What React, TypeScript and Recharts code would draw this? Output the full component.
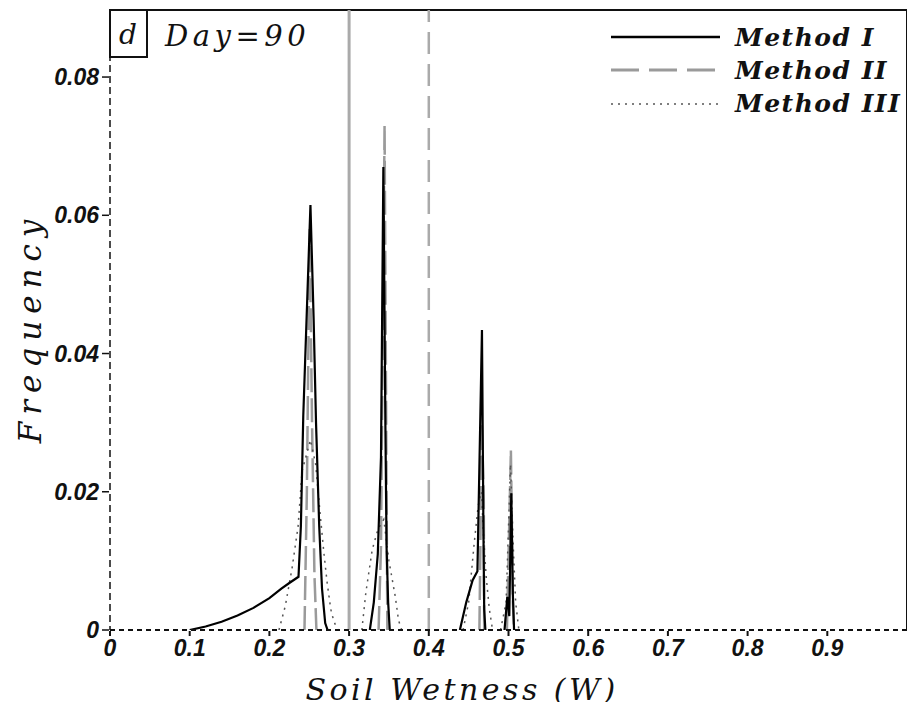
import { LineChart, Line, XAxis, YAxis, ReferenceLine } from "recharts";

// frequency curves of soil wetness W, one segment per peak
const methodI: number[][][] = [
  [[0.1, 0], [0.12, 0.0005], [0.14, 0.0012], [0.16, 0.0021], [0.18, 0.0032], [0.2, 0.0046], [0.215, 0.006], [0.225, 0.0068], [0.2365, 0.0077], [0.2395, 0.015], [0.2425, 0.031], [0.2515, 0.0615], [0.2555, 0.045], [0.2585, 0.03], [0.2625, 0.015], [0.266, 0.006], [0.27, 0.001], [0.273, 0]],
  [[0.326, 0], [0.331, 0.004], [0.336, 0.011], [0.34, 0.025], [0.343, 0.067], [0.3455, 0.03], [0.347, 0.012], [0.349, 0.004], [0.351, 0]],
  [[0.439, 0], [0.447, 0.004], [0.455, 0.0072], [0.461, 0.0085], [0.4667, 0.0434], [0.4685, 0.015], [0.4695, 0.003], [0.471, 0]],
  [[0.495, 0], [0.4985, 0.0048], [0.501, 0.002], [0.5035, 0.0198], [0.5055, 0.005], [0.507, 0]],
];

const methodII: number[][][] = [
  [[0.244, 0], [0.247, 0.02], [0.2505, 0.058], [0.2535, 0.03], [0.2565, 0.008], [0.259, 0]],
  [[0.337, 0], [0.34, 0.012], [0.3445, 0.073], [0.347, 0.02], [0.348, 0]],
  [[0.4635, 0], [0.4665, 0.03], [0.469, 0.0188], [0.4695, 0]],
  [[0.498, 0], [0.503, 0.026], [0.5055, 0.004], [0.507, 0]],
];

const methodIII: number[][][] = [
  [[0.212, 0], [0.22, 0.0035], [0.2285, 0.009], [0.236, 0.015], [0.241, 0.023], [0.2515, 0.0275], [0.258, 0.024], [0.264, 0.0164], [0.2685, 0.011], [0.2725, 0.0068], [0.277, 0.003], [0.281, 0.0012], [0.286, 0]],
  [[0.316, 0], [0.321, 0.0054], [0.329, 0.0116], [0.336, 0.0145], [0.3435, 0.016], [0.35, 0.01], [0.358, 0.0048], [0.362, 0.0014], [0.366, 0]],
  [[0.443, 0], [0.45, 0.004], [0.457, 0.0126], [0.462, 0.018], [0.466, 0.02], [0.469, 0.013], [0.472, 0.0077], [0.476, 0.003], [0.48, 0]],
  [[0.49, 0], [0.497, 0.004], [0.5025, 0.024], [0.506, 0.012], [0.509, 0.004], [0.513, 0]],
];

const xTicks = [0, 0.1, 0.2, 0.3, 0.4, 0.5, 0.6, 0.7, 0.8, 0.9];
const yTicks = [0, 0.02, 0.04, 0.06, 0.08];
const Y_MAX = 0.0897;

// join the segments with null points so the line breaks between peaks
function toRows(segs: number[][][]) {
  const rows: { w: number; f: number | null }[] = [];
  segs.forEach((seg, i) => {
    if (i > 0) rows.push({ w: (segs[i - 1][segs[i - 1].length - 1][0] + seg[0][0]) / 2, f: null });
    seg.forEach(([w, f]) => rows.push({ w, f }));
  });
  return rows;
}

const tickFont = {
  fontFamily: "'Liberation Sans', Arial, sans-serif",
  fontStyle: "italic",
  fontWeight: "bold",
  fontSize: 23,
  fill: "#111",
};

const serif = "'DejaVu Serif', serif";

export default function App() {
  return (
    <div style={{ position: "relative", width: 915, height: 710, margin: -8, background: "#fff" }}>
      <LineChart width={915} height={710} margin={{ top: 10, right: 8, bottom: 40, left: 50 }}>
        <XAxis
          type="number"
          dataKey="w"
          domain={[0, 1]}
          ticks={xTicks}
          tickFormatter={(v) => (v === 0 ? "0" : v.toFixed(1))}
          allowDataOverflow
          height={40}
          stroke="#111"
          strokeWidth={2}
          strokeDasharray="5 4"
          tickSize={6}
          tickMargin={4}
          tick={tickFont}
        />
        <YAxis
          type="number"
          domain={[0, Y_MAX]}
          ticks={yTicks}
          tickFormatter={(v) => (v === 0 ? "0" : v.toFixed(2))}
          allowDataOverflow
          width={60}
          stroke="#111"
          strokeWidth={1.5}
          strokeDasharray="7 4"
          tickSize={8}
          tickMargin={3}
          tick={tickFont}
        />
        <ReferenceLine y={Y_MAX} stroke="#111" strokeWidth={2} />
        <ReferenceLine x={1} stroke="#111" strokeWidth={2} />
        <ReferenceLine x={0.3} stroke="#aaa" strokeWidth={3} />
        <ReferenceLine x={0.4} stroke="#aaa" strokeWidth={2.5} strokeDasharray="22 10" />
        <Line data={toRows(methodII)} dataKey="f" type="linear" stroke="#9a9a9a" strokeWidth={2.5} strokeDasharray="24 6" dot={false} isAnimationActive={false} />
        <Line data={toRows(methodIII)} dataKey="f" type="linear" stroke="#555" strokeWidth={1.5} strokeDasharray="2 5" dot={false} isAnimationActive={false} />
        <Line data={toRows(methodI)} dataKey="f" type="linear" stroke="#000" strokeWidth={2.2} dot={false} isAnimationActive={false} />
      </LineChart>
      <svg width={915} height={710} style={{ position: "absolute", left: 0, top: 0, pointerEvents: "none" }}>
        <rect x={110} y={10} width={37} height={47} fill="#fff" stroke="#111" strokeWidth={2} />
        <text x={128} y={44} textAnchor="middle" fontFamily={serif} fontStyle="italic" fontSize={28} fill="#111">d</text>
        <text x={165} y={46} fontFamily={serif} fontStyle="italic" fontSize={29} letterSpacing={4.5} fill="#111">Day=90</text>

        <line x1={611} x2={720} y1={37} y2={37} stroke="#000" strokeWidth={2.5} />
        <line x1={611} x2={720} y1={70} y2={70} stroke="#9a9a9a" strokeWidth={3} strokeDasharray="28 10" />
        <line x1={611} x2={720} y1={104} y2={104} stroke="#555" strokeWidth={1.5} strokeDasharray="2 5" />
        {["Method I", "Method II", "Method III"].map((t, i) => (
          <text key={t} x={735} y={46 + i * 33} fontFamily={serif} fontStyle="italic" fontWeight="bold" fontSize={25} letterSpacing={1.5} fill="#111">
            {t}
          </text>
        ))}

        <text x={462} y={700} textAnchor="middle" fontFamily={serif} fontStyle="italic" fontSize={30} letterSpacing={3.5} fill="#111">
          Soil Wetness (W)
        </text>
        <text
          transform="translate(41 328) rotate(-90)"
          textAnchor="middle"
          fontFamily={serif}
          fontStyle="italic"
          fontSize={31}
          letterSpacing={7}
          fill="#111"
        >
          Frequency
        </text>
      </svg>
    </div>
  );
}
